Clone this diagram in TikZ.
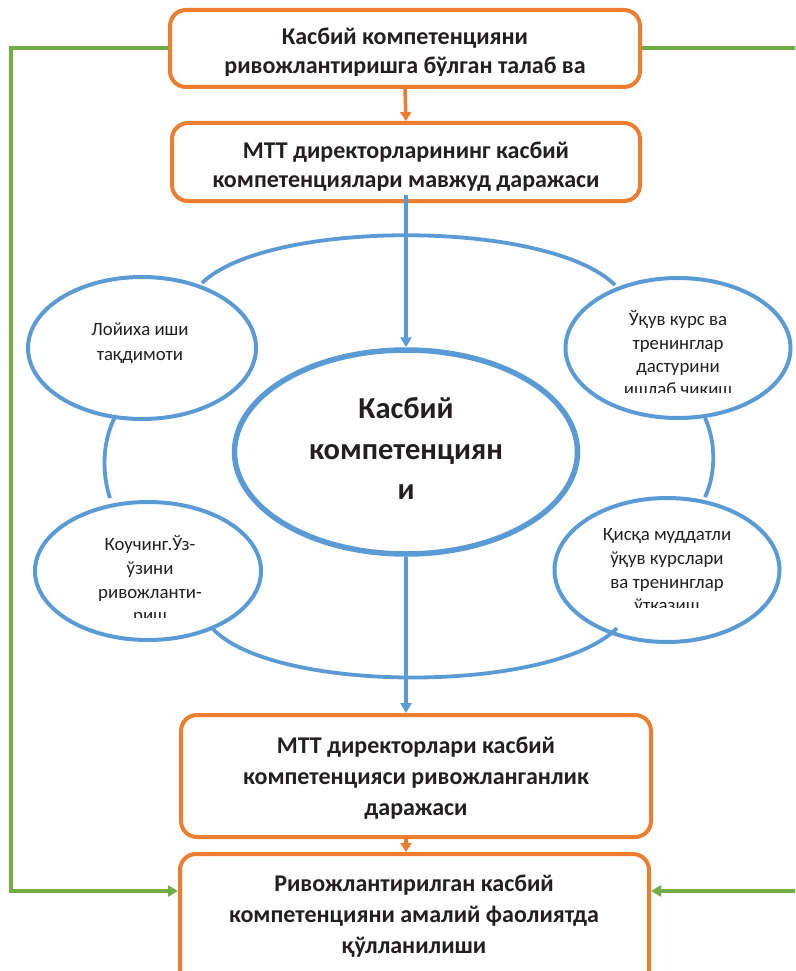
\documentclass[tikz,border=0pt]{standalone}
\usepackage{fontspec}
\setmainfont{Carlito}
\usetikzlibrary{shapes.geometric,arrows.meta}
\definecolor{orangeC}{HTML}{ED7D31}
\definecolor{blueC}{HTML}{5B9BD5}
\definecolor{greenC}{HTML}{70AD47}
\definecolor{textC}{HTML}{231F20}
\tikzset{
  obox/.style={draw=orangeC, line width=4pt, rounded corners=16pt, inner sep=0pt},
  bell/.style={ellipse, draw=blueC, line width=4pt, inner sep=0pt},
  cell/.style={ellipse, draw=blueC, line width=5.5pt, inner sep=0pt},
  btxt/.style={anchor=base, inner sep=0pt, text=textC, font=\fontsize{24}{28}\selectfont\bfseries},
  stxt/.style={anchor=base, inner sep=0pt, text=textC, font=\fontsize{18.8}{22}\selectfont},
  ctxt/.style={anchor=base, inner sep=0pt, text=textC, font=\fontsize{30.5}{36}\selectfont\bfseries},
  oarr/.style={draw=orangeC, line width=3.5pt, -{Triangle[width=11pt,length=9pt]}},
  barr/.style={draw=blueC, line width=3.5pt, -{Triangle[width=11pt,length=10pt]}},
  garr/.style={draw=greenC, line width=4pt, -{Triangle[width=11pt,length=10pt]}},
  arcline/.style={draw=blueC, line width=3.8pt},
}
\begin{document}
\begin{tikzpicture}[x=1pt,y=-1pt]
\clip (0,0) rectangle (795,971);
\fill[white] (0,0) rectangle (795,971);

% boxes
\node[obox, minimum width=470pt, minimum height=77pt] (box1) at (405,48.5) {};
\node[obox, minimum width=468pt, minimum height=78pt] (box2) at (406,162) {};
\node[obox, minimum width=470pt, minimum height=122pt] (box3) at (416,776) {};
\node[obox, minimum width=469pt, minimum height=150pt] (box4) at (414.5,929) {};

% ellipses
\node[cell, minimum width=343pt, minimum height=204pt] (cen) at (406,452) {};
\node[bell, minimum width=228pt, minimum height=142pt] (tl) at (142,348) {};
\node[bell, minimum width=226pt, minimum height=138pt] (bl) at (148,571) {};
\node[bell, minimum width=225pt, minimum height=140pt] (tr) at (678,348) {};
\node[bell, minimum width=225pt, minimum height=144pt] (br) at (667,570) {};

% connecting arcs
\coordinate (a1) at (202,283); \coordinate (a2) at (615,285);
\draw[arcline] (a1) .. controls (268,219) and (548,219) .. (a2);
\coordinate (a3) at (115,417); \coordinate (a4) at (110,498);
\draw[arcline] (a3) .. controls (102,442) and (102,474) .. (a4);
\coordinate (a5) at (705,418); \coordinate (a6) at (705,497);
\draw[arcline] (a5) .. controls (716,442) and (716,474) .. (a6);
\coordinate (a7) at (212,628); \coordinate (a8) at (617,628);
\draw[arcline] (a7) .. controls (272,694) and (552,694) .. (a8);

% box texts
\begin{scope}
\clip (170,10) rectangle (640,75.5);
\node[btxt] (t1a) at (405,45) {Касбий компетенцияни};
\node[btxt] (t1b) at (405,74) {ривожлантиришга бўлган талаб ва};
\end{scope}
\node[btxt] (t2a) at (406,158) {МТТ директорларининг касбий};
\node[btxt] (t2b) at (406,187) {компетенциялари мавжуд даражаси};
\node[btxt] (t3a) at (416,753) {МТТ директорлари касбий};
\node[btxt] (t3b) at (416,784) {компетенцияси ривожланганлик};
\node[btxt] (t3c) at (416,815) {даражаси};
\node[btxt] (t4a) at (414,891) {Ривожлантирилган касбий};
\node[btxt] (t4b) at (414,922) {компетенцияни амалий фаолиятда};
\node[btxt] (t4c) at (414,953) {қўлланилиши};

% central text
\node[ctxt] (c1) at (406,418) {Касбий};
\node[ctxt] (c2) at (406,459) {компетенциян};
\node[ctxt] (c3) at (406,499) {и};

% small ellipse texts
\node[stxt] (s1a) at (140,335) {Лойиха иши};
\node[stxt] (s1b) at (140,360) {тақдимоти};
\begin{scope}
\clip (560,290) rectangle (795,392);
\node[stxt] (s2a) at (678,325) {Ўқув курс ва};
\node[stxt] (s2b) at (678,349) {тренинглар};
\node[stxt] (s2c) at (678,372) {дастурини};
\node[stxt] (s2d) at (678,395) {ишлаб чикиш};
\end{scope}
\begin{scope}
\clip (30,520) rectangle (270,617);
\node[stxt] (s3a) at (150,550) {Коучинг.Ўз-};
\node[stxt] (s3b) at (150,574) {ўзини};
\node[stxt] (s3c) at (150,598) {ривожланти-};
\node[stxt] (s3d) at (150,621) {риш};
\end{scope}
\begin{scope}
\clip (550,510) rectangle (795,607);
\node[stxt] (s4a) at (667,540) {Қисқа муддатли};
\node[stxt] (s4b) at (667,564) {ўқув курслари};
\node[stxt] (s4c) at (667,588) {ва тренинглар};
\node[stxt] (s4d) at (667,611) {ўтказиш};
\end{scope}

% arrows
\draw[oarr] (box1.south) -- (box2.north);
\draw[barr] ([yshift=8pt]box2.south) -- (cen.north);
\draw[barr] (cen.south) -- (cen.south |- box3.north);
\draw[oarr] (cen.south |- box3.south) -- (cen.south |- box4.north);

% green feedback lines
\coordinate (gy) at (0,891);
\coordinate (gL) at (11,0);
\coordinate (gR) at (830,0);
\draw[garr] (box1.west) -- (gL |- box1.west) -- (gL |- gy) -- (box4.west |- gy);
\draw[garr] (box1.east) -- (gR |- box1.east) -- (gR |- gy) -- (box4.east |- gy);
\end{tikzpicture}
\end{document}
